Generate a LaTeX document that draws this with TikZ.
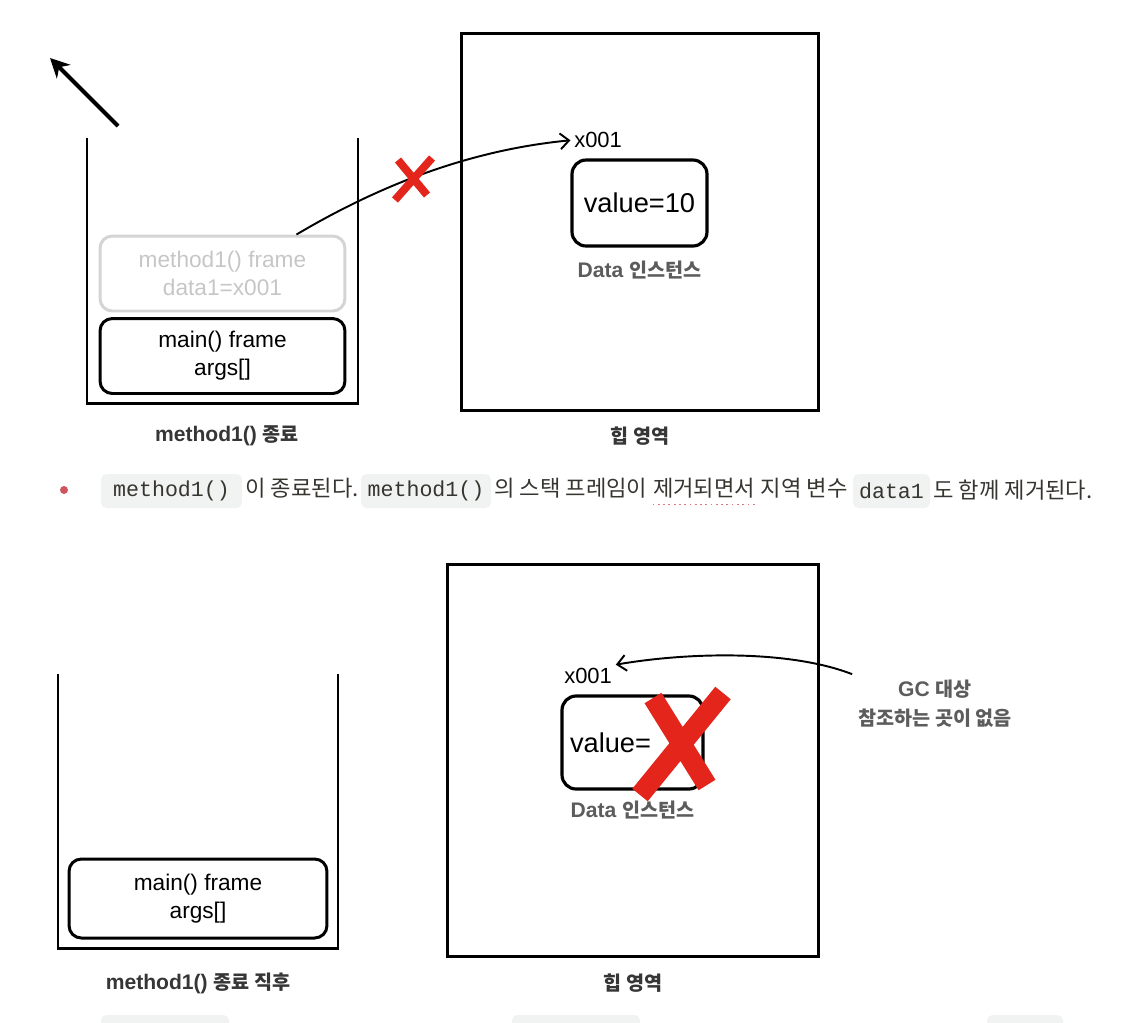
\documentclass[tikz,border=0pt]{standalone}
\usepackage{fontspec}
\setmainfont{Liberation Sans}
\setmonofont{Liberation Mono}
\newfontfamily\krfont[Scale=0.93]{Noto Sans CJK KR}
\newcommand{\ko}[1]{{\krfont #1}}
\usetikzlibrary{arrows.meta, positioning, calc}
\definecolor{redA}{HTML}{E3251B}
\definecolor{roseA}{HTML}{CF5660}
\definecolor{inkA}{HTML}{37352F}
\definecolor{slateA}{HTML}{363636}
\definecolor{slateB}{HTML}{5C5C5C}
\definecolor{fadeA}{HTML}{D4D4D4}
\definecolor{fadeB}{HTML}{C6C6C6}
\definecolor{codeA}{HTML}{F1F3F2}

\begin{document}
\begin{tikzpicture}[
  x=0.02cm, y=-0.02cm,
  framebox/.style={
    draw=#1, line width=1.7pt, rounded corners=7pt,
    font=\fontsize{12.9}{16}\selectfont, align=center,
    minimum width=4.9cm, minimum height=1.5cm
  },
  objbox/.style={
    draw=black, line width=1.8pt, rounded corners=8pt,
    font=\fontsize{15.5}{18}\selectfont,
    minimum width=2.7cm, minimum height=1.72cm
  },
  heapbox/.style={
    draw=black, line width=1.7pt,
    minimum width=7.16cm, minimum height=7.56cm
  },
  addr/.style={font=\fontsize{12.5}{14}\selectfont, inner sep=2pt},
  lbl/.style={
    font=\fontsize{12}{16.4}\selectfont\bfseries,
    text=#1, align=center
  },
  lbl/.default=slateA,
  stackline/.style={line width=1.7pt},
  ref/.style={-{Straight Barb[length=5pt, width=9pt]}, line width=1.1pt},
  poparr/.style={-{Stealth[length=11pt, width=11pt]}, line width=2.3pt},
  xmark/.style={draw=redA, line width=#1},
  code/.style={
    fill=codeA, rounded corners=3pt, text=inkA,
    font=\fontsize{12.3}{14}\selectfont\ttfamily,
    minimum height=0.68cm, inner sep=0pt
  },
  ktxt/.style={font=\fontsize{13.6}{15}\selectfont\krfont, text=inkA, inner sep=0pt}
]
\useasboundingbox (0,0) rectangle (1136,1022);

%% ═══ STACK: method1() 종료 ═══
\coordinate (pop0) at (118,126);
\coordinate (pop1) at (50,58);
\draw[poparr] (pop0) -- (pop1);

\draw[stackline] (87,138) -- (87,403) -- (358,403) -- (358,138);

\node[framebox=fadeA, text=fadeB] (m1) at (222.5,273.5)
  {method1() frame\\data1=x001};
\node[framebox=black] (main1) at (222.5,356)
  {main() frame\\args[]};
\node[lbl] (cap1) at (227,436) {method1() \ko{종료}};

%% ═══ HEAP ═══
\node[heapbox] (heap1) at (640,222) {};
\node[objbox] (val1) at (639.5,203) {value=10};
\node[addr, above=0.13cm of val1.north west, anchor=south west] (addr1) {x001};
\node[lbl=slateB, below=0.14cm of val1] (inst1) {Data \ko{인스턴스}};
\node[lbl, below=0.16cm of heap1] (cap2) {\ko{힙 영역}};

\draw[ref] ([xshift=-1cm]m1.north east)
  .. controls (380,185) and (470,150) .. (addr1.west);
\draw[xmark=4.5pt] (398,160) -- (427,195) (432,158) -- (395,200);

%% ═══ BULLET ═══
\node[circle, fill=roseA, inner sep=0pt, minimum size=0.16cm] (dot) at (64,490) {};
\node[code, minimum width=2.82cm] (c1) at (171.5,491) {method1()};
\node[ktxt, anchor=base west] (t1) at ([xshift=1.5pt]c1.base east) {이 종료된다.};
\node[code, minimum width=2.6cm] (c2) at (426,491) {method1()};
\node[ktxt, anchor=base west] (t2) at ([xshift=1.5pt]c2.base east) {의 스택 프레임이};
\node[ktxt, anchor=base west] (t3) at ([xshift=2.8pt]t2.base east) {제거되면서};
\node[ktxt, anchor=base west] (t4) at ([xshift=2.8pt]t3.base east) {지역 변수};
\node[code, minimum width=1.54cm] (c3) at (891.5,491) {data1};
\node[ktxt, anchor=base west] (t5) at ([xshift=1.5pt]c3.base east) {도 함께 제거된다.};
\draw[roseA!80, dotted, line width=1pt]
  ([yshift=-4.5pt]t3.base west) -- ([yshift=-4.5pt]t3.base east);

%% ═══ STACK: method1() 종료 직후 ═══
\draw[stackline] (58,674) -- (58,948) -- (338,948) -- (338,674);
\node[framebox=black, minimum width=5.16cm, minimum height=1.58cm] (main2)
  at (198,898.5) {main() frame\\args[]};
\node[lbl] (cap3) at (198,983) {method1() \ko{종료 직후}};

%% ═══ HEAP: GC ═══
\node[heapbox, minimum width=7.44cm, minimum height=7.86cm] (heap2) at (633,760.5) {};
\node[objbox, minimum width=2.82cm, minimum height=1.86cm,
  text width=2.5cm, align=left] (val2) at (632.5,742.5) {value=};
\node[addr, above=0.13cm of val2.north west, anchor=south west] (addr2) {x001};
\node[lbl=slateB, below=0.08cm of val2] (inst2) {Data \ko{인스턴스}};
\node[lbl, below=0.18cm of heap2] (cap4) {\ko{힙 영역}};
\node[lbl=slateB] (gc) at (935,704) {GC \ko{대상}\\\ko{참조하는 곳이 없음}};

\draw[ref] (gc.north west)
  .. controls (790,650) and (690,652) .. (addr2.north east);
\draw[xmark=11.3pt] (653,698) -- (707,785) (723,693) -- (640,795);

% cut-off blocks at the bottom edge
\fill[codeA, rounded corners=3pt] (101,1015) rectangle (229,1040);
\fill[codeA, rounded corners=3pt] (512,1015) rectangle (640,1040);
\fill[codeA, rounded corners=3pt] (987,1015) rectangle (1063,1040);

\end{tikzpicture}
\end{document}
